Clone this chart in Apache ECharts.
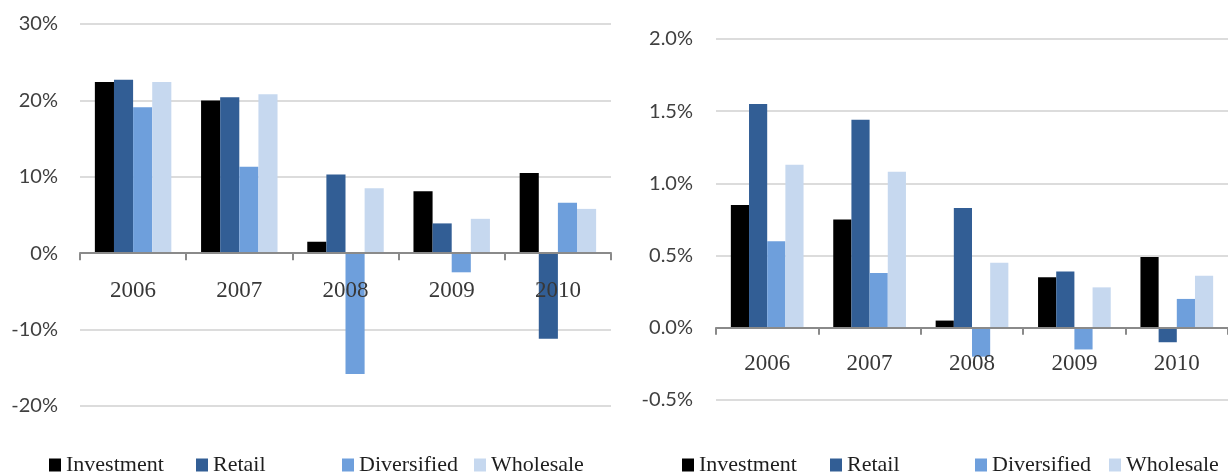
<!DOCTYPE html>
<html>
<head>
<meta charset="utf-8">
<script src="https://cdn.jsdelivr.net/npm/echarts@6/dist/echarts.min.js"></script>
<style>
  html, body { margin: 0; padding: 0; background: #ffffff; }
  #chart { width: 1228px; height: 476px; }
</style>
</head>
<body>
<div id="chart"></div>
<script>
// Years on the category axis
const categories = ['2006', '2007', '2008', '2009', '2010'];
const seriesNames = ['Investment', 'Retail', 'Diversified', 'Wholesale'];

// Left panel (percent)
const leftInvestment  = [22.4, 20.0, 1.5, 8.1, 10.5];
const leftRetail      = [22.7, 20.4, 10.3, 3.9, -11.2];
const leftDiversified = [19.1, 11.3, -15.8, -2.5, 6.6];
const leftWholesale   = [22.4, 20.8, 8.5, 4.5, 5.8];
const leftTicks = { min: -20, max: 30, interval: 10 };

// Right panel (percent)
const rightInvestment  = [0.85, 0.75, 0.05, 0.35, 0.49];
const rightRetail      = [1.55, 1.44, 0.83, 0.39, -0.10];
const rightDiversified = [0.60, 0.38, -0.20, -0.15, 0.20];
const rightWholesale   = [1.13, 1.08, 0.45, 0.28, 0.36];
const rightTicks = { min: -0.5, max: 2.0, interval: 0.5 };

const colors = ['#000000', '#325E95', '#6E9FDC', '#C6D8EF'];

const leftData = [leftInvestment, leftRetail, leftDiversified, leftWholesale];
const rightData = [rightInvestment, rightRetail, rightDiversified, rightWholesale];

// Plot areas
const leftGrid = { left: 80, top: 24, width: 531, height: 382 };
const rightGrid = { left: 716, top: 39, width: 522, height: 361 };

// Distance (px) from the bottom of a grid up to its zero line
function zeroLift(grid, ticks) {
  return grid.height * (0 - ticks.min) / (ticks.max - ticks.min);
}

const chart = echarts.init(document.getElementById('chart'), null, { renderer: 'canvas' });

function xAxisFor(gridIndex, grid, ticks, margin) {
  return {
    type: 'category',
    gridIndex: gridIndex,
    data: categories,
    position: 'bottom',
    offset: -zeroLift(grid, ticks),
    axisLine: { onZero: false, lineStyle: { color: '#8a8a8a', width: 2 } },
    axisTick: { show: true, length: 7, lineStyle: { color: '#8a8a8a', width: 2 } },
    axisLabel: {
      margin: margin,
      color: '#383838',
      fontFamily: 'Liberation Serif',
      fontSize: 23
    },
    splitLine: { show: false },
    z: 3
  };
}

function yAxisFor(gridIndex, ticks, fmt, margin) {
  return {
    type: 'value',
    gridIndex: gridIndex,
    min: ticks.min,
    max: ticks.max,
    interval: ticks.interval,
    axisLine: { show: false },
    axisTick: { show: false },
    axisLabel: {
      margin: margin,
      color: '#404040',
      fontFamily: 'Lato',
      fontSize: 20,
      formatter: fmt
    },
    splitLine: { show: true, lineStyle: { color: '#dcdcdc', width: 2 } }
  };
}

const series = [];
seriesNames.forEach((name, i) => {
  series.push({
    name: name, type: 'bar', xAxisIndex: 0, yAxisIndex: 0,
    data: leftData[i], barGap: '0%', barCategoryGap: '28%',
    itemStyle: { color: colors[i] }
  });
});
seriesNames.forEach((name, i) => {
  series.push({
    name: name, type: 'bar', xAxisIndex: 1, yAxisIndex: 1,
    data: rightData[i], barGap: '0%', barCategoryGap: '29%',
    itemStyle: { color: colors[i] }
  });
});

const legendLeftPositions = [44, 191, 337, 469];
const legendRightPositions = [677, 825, 970, 1104];
const legends = [];
seriesNames.forEach((name, i) => {
  [legendLeftPositions[i], legendRightPositions[i]].forEach(x => {
    legends.push({
      data: [name],
      left: x,
      top: 449,
      icon: 'rect',
      itemWidth: 12,
      itemHeight: 13,
      selectedMode: false,
      textStyle: { color: '#1e1e1e', fontFamily: 'Liberation Serif', fontSize: 22 }
    });
  });
});

chart.setOption({
  animation: false,
  backgroundColor: '#ffffff',
  grid: [leftGrid, rightGrid],
  xAxis: [xAxisFor(0, leftGrid, leftTicks, 26), xAxisFor(1, rightGrid, rightTicks, 25)],
  yAxis: [
    yAxisFor(0, leftTicks, v => v + '%', 22),
    yAxisFor(1, rightTicks, v => v.toFixed(1) + '%', 23)
  ],
  legend: legends,
  series: series
});
</script>
</body>
</html>
